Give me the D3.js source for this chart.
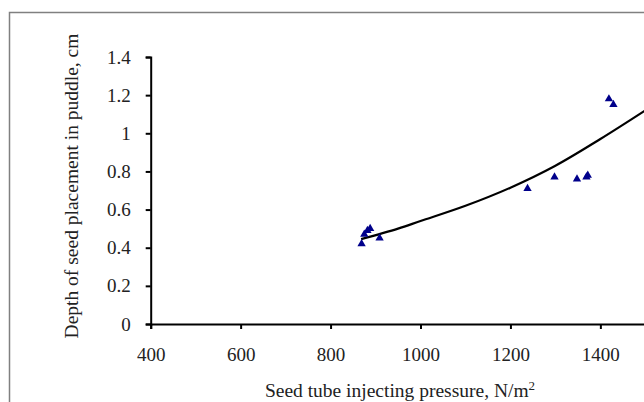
<!DOCTYPE html>
<html>
<head>
<meta charset="utf-8">
<script src="https://cdn.jsdelivr.net/npm/d3@7"></script>
<style>
  body { margin: 0; background: #fff; }
  svg { display: block; }
  .axis text { font-family: "Liberation Serif", "Times New Roman", serif; font-size: 19px; fill: #222; }
  .axis path, .axis line { stroke: #000; stroke-width: 2px; }
  .title { font-family: "Liberation Serif", "Times New Roman", serif; font-size: 19.5px; fill: #222; }
</style>
</head>
<body>
<div id="chart"></div>
<script>
// observed points (pressure N/m2, depth cm)
var pressure = [869, 875, 882, 888, 909, 1238, 1298, 1348, 1369, 1372, 1419, 1429];
var depth = [0.42, 0.47, 0.49, 0.50, 0.45, 0.71, 0.77, 0.76, 0.77, 0.78, 1.18, 1.15];

// trend line
var trendX = [868, 950, 1000, 1100, 1200, 1300, 1400, 1500];
var trendY = [0.445, 0.50, 0.54, 0.62, 0.715, 0.83, 0.97, 1.12];

var xTicks = [400, 600, 800, 1000, 1200, 1400];
var yTicks = [0, 0.2, 0.4, 0.6, 0.8, 1, 1.2, 1.4];

var W = 644, H = 402;

var svg = d3.select('#chart').append('svg')
	.attr('width', W)
	.attr('height', H);

// outer frame (cropped at right/bottom)
svg.append('rect')
	.attr('x', 9.5).attr('y', 12.5)
	.attr('width', 800).attr('height', 600)
	.attr('fill', 'none')
	.attr('stroke', '#808080')
	.attr('stroke-width', 1.5);

var x = d3.scaleLinear().domain([400, 1600]).range([150.7, 690.3]);
var y = d3.scaleLinear().domain([0, 1.4]).range([324, 57]);

var xAxis = d3.axisBottom(x)
	.tickValues(xTicks)
	.tickSizeOuter(0)
	.tickSize(5)
	.tickPadding(19)
	.tickFormat(d3.format('d'));

var yAxis = d3.axisLeft(y)
	.tickValues(yTicks)
	.tickSizeOuter(0)
	.tickSize(5)
	.tickPadding(15)
	.tickFormat(function(d) { return String(d); });

svg.append('g')
	.attr('class', 'x axis')
	.attr('transform', 'translate(0,' + y(0) + ')')
	.call(xAxis);

svg.append('g')
	.attr('class', 'y axis')
	.attr('transform', 'translate(' + x(400) + ',0)')
	.call(yAxis);

// trend curve
var line = d3.line()
	.x(function(d, i) { return x(trendX[i]); })
	.y(function(d) { return y(d); })
	.curve(d3.curveCatmullRom);

svg.append('path')
	.datum(trendY)
	.attr('d', line)
	.attr('fill', 'none')
	.attr('stroke', '#000')
	.attr('stroke-width', 2.2);

// points
svg.selectAll('.pt')
	.data(pressure)
	.enter().append('path')
	.attr('class', 'pt')
	.attr('d', d3.symbol().type(d3.symbolTriangle).size(30))
	.attr('transform', function(d, i) { return 'translate(' + x(d) + ',' + y(depth[i]) + ')'; })
	.attr('fill', '#00008b');

// axis titles
svg.append('text')
	.attr('class', 'title')
	.attr('x', 400)
	.attr('y', 397)
	.attr('text-anchor', 'middle')
	.text('Seed tube injecting pressure, N/m')
	.append('tspan')
	.attr('dy', -7)
	.style('font-size', '13px')
	.text('2');

svg.append('text')
	.attr('class', 'title')
	.attr('transform', 'translate(78,186) rotate(-90)')
	.attr('text-anchor', 'middle')
	.text('Depth of seed placement in puddle, cm');
</script>
</body>
</html>
